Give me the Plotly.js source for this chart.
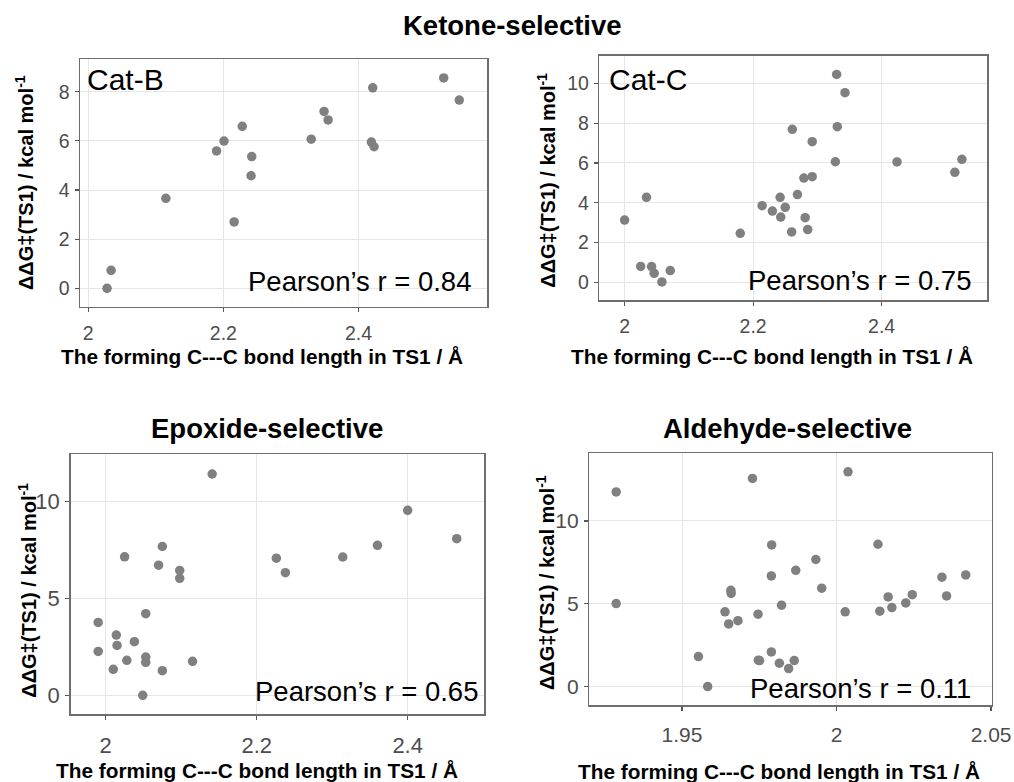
<!DOCTYPE html>
<html>
<head>
<meta charset="utf-8">
<script src="https://cdn.plot.ly/plotly-3.0.1.min.js"></script>
<style>html,body{margin:0;padding:0;background:#fff;}#chart{width:1014px;height:782px;}</style>
</head>
<body>
<div id="chart"></div>
<script>
// ---- Data ----
const catB_x = [2.028, 2.034, 2.115, 2.190, 2.201, 2.216, 2.228, 2.242, 2.241, 2.330, 2.349, 2.355, 2.421, 2.419, 2.423, 2.526, 2.549];
const catB_y = [0.00, 0.73, 3.66, 5.59, 5.99, 2.70, 6.59, 5.36, 4.58, 6.07, 7.20, 6.85, 8.16, 5.95, 5.76, 8.56, 7.66];

const catC_x = [2.000, 2.025, 2.034, 2.042, 2.046, 2.058, 2.071, 2.180, 2.214, 2.230, 2.242, 2.243, 2.250, 2.260, 2.261, 2.269, 2.279, 2.281, 2.285, 2.292, 2.292, 2.328, 2.330, 2.331, 2.343, 2.424, 2.514, 2.525];
const catC_y = [3.13, 0.80, 4.27, 0.79, 0.45, 0.02, 0.59, 2.46, 3.85, 3.58, 4.27, 3.28, 3.77, 2.53, 7.69, 4.41, 5.24, 3.25, 2.65, 5.31, 7.07, 6.06, 10.45, 7.82, 9.53, 6.05, 5.53, 6.18];

const epox_x = [1.990, 1.990, 2.010, 2.014, 2.015, 2.025, 2.028, 2.038, 2.049, 2.053, 2.053, 2.053, 2.070, 2.075, 2.075, 2.098, 2.098, 2.115, 2.141, 2.226, 2.238, 2.314, 2.360, 2.400, 2.465];
const epox_y = [3.77, 2.28, 1.36, 3.12, 2.59, 7.15, 1.82, 2.78, 0.02, 4.22, 1.99, 1.72, 6.72, 1.29, 7.68, 6.45, 6.04, 1.77, 11.41, 7.08, 6.33, 7.14, 7.74, 9.54, 8.08];

const ald_x = [1.9287, 1.9287, 1.9553, 1.9583, 1.9639, 1.9651, 1.9658, 1.9659, 1.9681, 1.9728, 1.9746, 1.9747, 1.9751, 1.9789, 1.9790, 1.9789, 1.9815, 1.9822, 1.9845, 1.9863, 1.9868, 1.9933, 1.9952, 2.0028, 2.0037, 2.0134, 2.0140, 2.0167, 2.0179, 2.0224, 2.0245, 2.0341, 2.0356, 2.0418];
const ald_y = [11.75, 5.01, 1.81, 0.00, 4.51, 3.78, 5.81, 5.63, 3.98, 12.56, 4.37, 1.59, 1.57, 2.09, 8.55, 6.68, 1.41, 4.91, 1.09, 1.57, 7.02, 7.67, 5.94, 4.51, 12.96, 8.59, 4.55, 5.41, 4.77, 5.05, 5.55, 6.60, 5.47, 6.74];

const panelLabels = ["Cat-B", "Cat-C", "", ""];
const pearsonR = ["0.84", "0.75", "0.65", "0.11"];
const groupTitles = ["Ketone-selective", "Epoxide-selective", "Aldehyde-selective"];
const xTitle = "The forming C---C bond length in TS1 / Å";
const yTitle = "ΔΔG‡(TS1) / kcal mol<sup>-1</sup>";

// ---- Layout helpers ----
const W = 1014, H = 782;
const fx = p => p / W;
const fy = p => 1 - p / H;
const FONT = "Liberation Sans, Arial, Helvetica, sans-serif";
const MARK = "#808080";

const series = [[catB_x, catB_y], [catC_x, catC_y], [epox_x, epox_y], [ald_x, ald_y]];
const traces = series.map((s, i) => ({
  type: "scatter", mode: "markers", x: s[0], y: s[1],
  xaxis: i === 0 ? "x" : "x" + (i + 1), yaxis: i === 0 ? "y" : "y" + (i + 1),
  marker: {color: MARK, size: 9.5, line: {width: 0}},
  hoverinfo: "x+y", showlegend: false
}));

// pixel boxes [left, right, top, bottom]
const boxes = [[80, 487, 59.3, 306.7], [599.3, 987.3, 55.7, 300], [70.7, 484, 454, 714], [589.3, 991.7, 453.3, 705.3]];
const xRanges = [[1.988, 2.590], [1.9606, 2.5645], [1.9536, 2.5011], [1.920, 2.0502]];
const yRanges = [[-0.75, 9.32], [-0.89, 11.39], [-0.94, 12.44], [-1.13, 14.08]];
const xDtick = [0.2, 0.2, 0.2, 0.05];
const yDtick = [2, 2, 5, 5];
const xStandoff = [4, 4, 7, 6];
const tickSize = [19.5, 19.5, 22, 21];

function axisBase(i) {
  return {
    showline: true, mirror: true, linecolor: "#6e6e6e", linewidth: 1.5,
    showgrid: true, gridcolor: "#e6e6e6", gridwidth: 1, zeroline: false,
    ticks: "outside", ticklen: 4, tickwidth: 1.2, tickcolor: "#555",
    tickfont: {family: FONT, size: tickSize[i], color: "#4d4d4d"}, tick0: 0
  };
}

const layout = {
  width: W, height: H, margin: {l: 0, r: 0, t: 0, b: 0},
  paper_bgcolor: "#fff", plot_bgcolor: "#fff",
  font: {family: FONT}, showlegend: false, annotations: []
};

boxes.forEach((b, i) => {
  const xa = Object.assign(axisBase(i), {domain: [fx(b[0]), fx(b[1])], range: xRanges[i], dtick: xDtick[i],
    ticklabelstandoff: xStandoff[i], anchor: i === 0 ? "y" : "y" + (i + 1)});
  const ya = Object.assign(axisBase(i), {domain: [fy(b[3]), fy(b[2])], range: yRanges[i], dtick: yDtick[i],
    ticklabelstandoff: 1, anchor: i === 0 ? "x" : "x" + (i + 1)});
  layout[i === 0 ? "xaxis" : "xaxis" + (i + 1)] = xa;
  layout[i === 0 ? "yaxis" : "yaxis" + (i + 1)] = ya;
});

// text positions in pixels
const xTitlePos = [[262, 356], [772, 356], [257, 770], [779, 771.7]];
const yTitlePos = [[25, 183], [546.7, 180], [26.7, 590], [545, 583]];
const pearsonPos = [[472.7, 281.7], [973, 280.7], [480, 691.7], [973.3, 688]];
const labelPos = [[85, 80], [607.3, 79]];
const titlePos = [[512, 25], [267, 428], [787, 428]];

const ann = layout.annotations;
groupTitles.forEach((t, i) => ann.push({text: "<b>" + t + "</b>", xref: "paper", yref: "paper",
  x: fx(titlePos[i][0]), y: fy(titlePos[i][1]), xanchor: "center", yanchor: "middle", showarrow: false,
  font: {family: FONT, size: 27.5, color: "#000"}}));
for (let i = 0; i < 4; i++) {
  ann.push({text: "<b>" + xTitle + "</b>", xref: "paper", yref: "paper", x: fx(xTitlePos[i][0]), y: fy(xTitlePos[i][1]),
    xanchor: "center", yanchor: "middle", showarrow: false, font: {family: FONT, size: 20.8, color: "#000"}});
  ann.push({text: "<b>" + yTitle + "</b>", xref: "paper", yref: "paper", x: fx(yTitlePos[i][0]), y: fy(yTitlePos[i][1]),
    xanchor: "center", yanchor: "middle", textangle: -90, showarrow: false, font: {family: FONT, size: 20, color: "#000"}});
  ann.push({text: "Pearson’s r = " + pearsonR[i], xref: "paper", yref: "paper", x: fx(pearsonPos[i][0]), y: fy(pearsonPos[i][1]),
    xanchor: "right", yanchor: "middle", showarrow: false, font: {family: FONT, size: 27.5, color: "#000"}});
  if (panelLabels[i]) ann.push({text: panelLabels[i], xref: "paper", yref: "paper", x: fx(labelPos[i][0]), y: fy(labelPos[i][1]),
    xanchor: "left", yanchor: "middle", showarrow: false, font: {family: FONT, size: 30, color: "#000"}});
}

Plotly.newPlot("chart", traces, layout, {displayModeBar: false, staticPlot: true});
</script>
</body>
</html>
